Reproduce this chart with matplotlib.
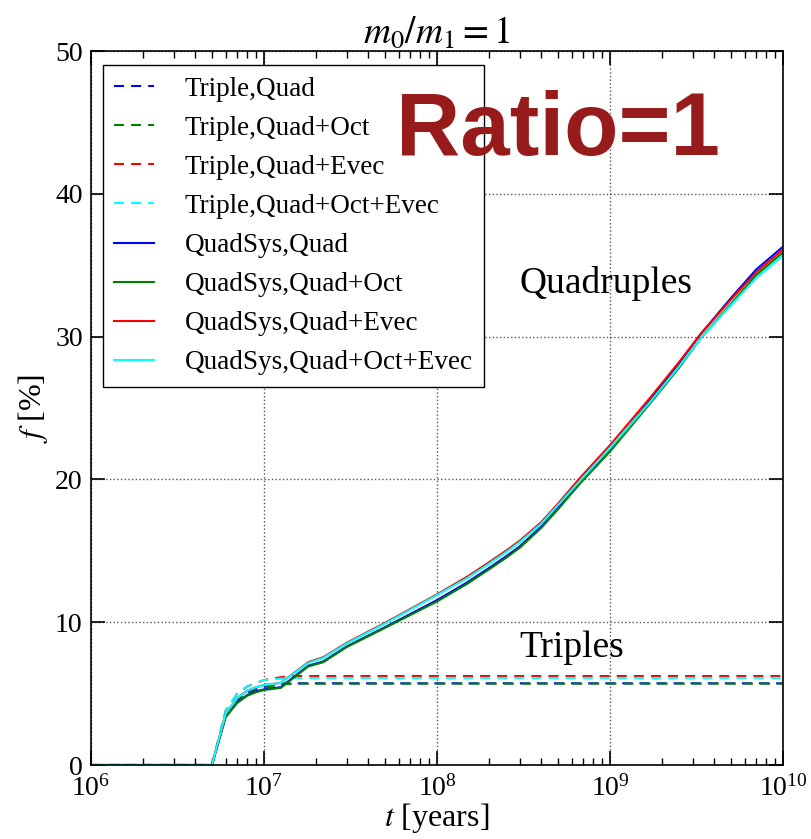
import matplotlib
matplotlib.use("Agg")
import matplotlib.pyplot as plt
from matplotlib.ticker import LogLocator, NullFormatter, MultipleLocator

plt.rcParams['font.family'] = ['Liberation Serif', 'DejaVu Serif']
plt.rcParams['mathtext.fontset'] = 'stix'

# ---- data ----
t_quad = [1e6, 5e6, 6e6, 7e6, 8e6, 9e6, 1e7, 1.25e7, 1.8e7, 2.2e7, 3e7, 5e7,
          1e8, 1.5e8, 2e8, 2.5e8, 3e8, 4e8, 5e8, 6.7e8, 1e9, 1.7e9, 2.5e9,
          3.3e9, 5e9, 7e9, 1e10]
quad_quad = [0, 0, 3.4, 4.4, 4.9, 5.15, 5.3, 5.45, 6.95, 7.25, 8.3, 9.65,
             11.55, 12.8, 13.8, 14.6, 15.3, 16.7, 18.0, 19.8, 22.1, 25.5, 28.1,
             30.1, 32.7, 34.7, 36.3]
quad_oct = [0, 0, 3.35, 4.35, 4.85, 5.1, 5.25, 5.4, 6.9, 7.2, 8.25, 9.6,
            11.45, 12.7, 13.7, 14.5, 15.2, 16.6, 17.9, 19.7, 21.95, 25.3, 27.8,
            29.8, 32.3, 34.3, 35.9]
quad_evec = [0, 0, 3.6, 4.7, 5.2, 5.45, 5.6, 5.75, 7.2, 7.55, 8.55, 9.95,
             11.95, 13.2, 14.2, 15.0, 15.7, 17.0, 18.3, 20.1, 22.4, 25.7, 28.2,
             30.1, 32.6, 34.5, 36.1]
quad_oct_evec = [0, 0, 3.6, 4.7, 5.2, 5.45, 5.6, 5.75, 7.15, 7.5, 8.5, 9.9,
                 11.9, 13.1, 14.1, 14.9, 15.6, 16.9, 18.2, 19.9, 22.2, 25.4, 27.9,
                 29.8, 32.2, 34.1, 35.7]

t_tri = [1e6, 5e6, 6e6, 7e6, 8e6, 1e7, 1.25e7, 1.5e7, 1e10]
tri_quad = [0, 0, 3.5, 4.6, 5.1, 5.5, 5.7, 5.72, 5.72]
tri_oct = [0, 0, 3.45, 4.5, 5.0, 5.4, 5.65, 5.7, 5.7]
tri_evec = [0, 0, 3.8, 5.0, 5.5, 5.95, 6.15, 6.23, 6.23]
tri_oct_evec = [0, 0, 3.8, 5.0, 5.5, 5.95, 6.05, 6.1, 6.1]

labels_tri = ['Triple,Quad', 'Triple,Quad+Oct', 'Triple,Quad+Evec', 'Triple,Quad+Oct+Evec']
labels_quad = ['QuadSys,Quad', 'QuadSys,Quad+Oct', 'QuadSys,Quad+Evec', 'QuadSys,Quad+Oct+Evec']
colors = ['blue', 'green', 'red', 'cyan']

fig = plt.figure(figsize=(8.12, 8.39), dpi=100)
ax = fig.add_axes([0.1121, 0.0882, 0.8522, 0.851])

dash = (0, (4.8, 3.4))
for y, lab, c in zip([tri_quad, tri_oct, tri_evec, tri_oct_evec], labels_tri, colors):
    ax.plot(t_tri, y, linestyle=dash, color=c, lw=1.5, label=lab)
for y, lab, c in zip([quad_quad, quad_oct, quad_evec, quad_oct_evec], labels_quad, colors):
    ax.plot(t_quad, y, linestyle='-', color=c, lw=1.5, label=lab)

ax.set_xscale('log')
ax.set_xlim(1e6, 1e10)
ax.set_ylim(0, 50)
ax.yaxis.set_major_locator(MultipleLocator(10))
ax.xaxis.set_major_locator(LogLocator(base=10, numticks=10))
ax.xaxis.set_minor_locator(LogLocator(base=10, subs=range(2, 10), numticks=100))
ax.xaxis.set_minor_formatter(NullFormatter())
ax.tick_params(which='both', direction='in', top=True, right=True, labelsize=20)
ax.tick_params(which='major', length=10, width=1.2)
ax.tick_params(which='minor', length=5, width=1)
ax.tick_params(axis='x', pad=7)
ax.tick_params(axis='y', pad=6)
for s in ax.spines.values():
    s.set_linewidth(1.2)
ax.grid(True, which='major', linestyle=':', color='#555555', lw=1)

ax.set_xlabel(r'$t$ [years]', fontsize=23, labelpad=0)
ax.set_ylabel(r'$f$ [%]', fontsize=23)
ax.set_title(r'$m_0/m_1 = 1$', fontsize=27, pad=3)

ax.text(9.5e8, 33.05, 'Quadruples', fontsize=27, ha='center', va='baseline')
ax.text(6.0e8, 7.56, 'Triples', fontsize=27, ha='center', va='baseline')

leg = ax.legend(loc='upper left', bbox_to_anchor=(0.0173, 0.98), fontsize=19.5,
                frameon=True, fancybox=False, edgecolor='black', framealpha=1,
                handlelength=1.45, handletextpad=1.15, labelspacing=0.52,
                borderpad=0.42, borderaxespad=0)
leg.get_frame().set_linewidth(1.0)

ax.text(5.0e8, 42.7, 'Ratio=1', fontsize=64, fontweight='bold',
        family='Liberation Sans', color='#981b1b', ha='center', va='baseline',
        zorder=10)

fig.savefig('out.png', dpi=100)
